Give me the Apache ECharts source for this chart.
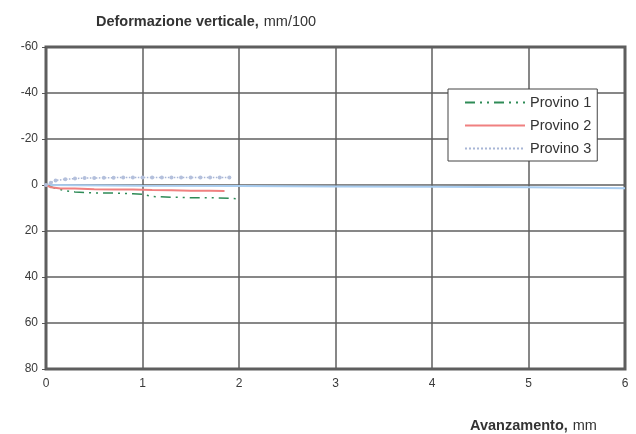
<!DOCTYPE html>
<html><head><meta charset="utf-8">
<script src="https://cdn.jsdelivr.net/npm/echarts@6/dist/echarts.min.js"></script>
<style>html,body{margin:0;padding:0;background:#fff}#c{width:636px;height:434px}</style>
</head><body><div id="c"></div>
<script>
var xTicks = [0,1,2,3,4,5,6];
var yTicks = [-60,-40,-20,0,20,40,60,80];
var p1X = [0,0.1,0.2,0.3,0.5,0.7,0.9,1.0,1.1,1.3,1.5,1.7,1.9,2.0];
var p1Y = [0,1.5,2.5,3.0,3.5,3.5,3.8,4.0,5.0,5.3,5.5,5.5,5.8,6.0];
var p2X = [0,0.05,0.15,0.3,0.5,0.7,0.9,1.1,1.3,1.5,1.7,1.85];
var p2Y = [0,1.0,1.5,1.5,1.8,2.0,2.0,2.2,2.3,2.5,2.5,2.6];
var p3X = [0,0.05,0.1,0.2,0.3,0.4,0.5,0.6,0.7,0.8,0.9,1.0,1.1,1.2,1.3,1.4,1.5,1.6,1.7,1.8,1.9];
var p3Y = [0,-1.0,-2.0,-2.5,-2.8,-3.0,-3.0,-3.2,-3.2,-3.3,-3.3,-3.3,-3.3,-3.3,-3.3,-3.3,-3.3,-3.3,-3.3,-3.3,-3.3];
var baseX = [0,1,2,3,4,5,6];
var baseY = [0,0.3,0.4,0.6,0.8,1.0,1.4];

function pairs(xs, ys){ return xs.map(function(x,i){return [x, ys[i]];}); }

var FF = 'Liberation Sans, Arial, sans-serif';
var chart = echarts.init(document.getElementById('c'), null, {renderer:'canvas'});
var lbl = {color:'#3a3a3a', fontFamily:FF, fontSize:12};
var rich = {
  b:{fontWeight:'bold', fontSize:14.5, color:'#333', fontFamily:FF},
  n:{fontWeight:'normal', fontSize:14.5, color:'#333', fontFamily:FF}
};
chart.setOption({
  animation:false,
  backgroundColor:'#fff',
  title:[{
    text:'{b|Deformazione verticale,} {n|mm/100}',
    left:91, top:8,
    textStyle:{fontWeight:'normal', rich:rich}
  },{
    text:'{b|Avanzamento,} {n|mm}',
    left:465, top:412,
    textStyle:{fontWeight:'normal', rich:rich}
  }],
  grid:{left:46, right:11, top:47, bottom:65, show:true, borderColor:'#5c5c5c', borderWidth:3, backgroundColor:'#fff'},
  legend:{
    data:[{name:'Provino 1', itemStyle:{opacity:0}},{name:'Provino 2', itemStyle:{opacity:0}},{name:'Provino 3', itemStyle:{opacity:0}}],
    orient:'vertical', left:448, top:89,
    padding:[6,6,5,16],
    itemGap:8, itemWidth:60, itemHeight:14,
    backgroundColor:'#fff', borderColor:'#444', borderWidth:1, borderRadius:0,
    textStyle:{fontSize:14.5, color:'#333', fontFamily:FF}
  },
  xAxis:{
    type:'value', min:0, max:6, interval:1,
    axisLine:{show:false},
    axisTick:{show:false},
    splitLine:{show:true, lineStyle:{color:'#5f5f5f', width:1.5}},
    axisLabel:Object.assign({margin:9}, lbl)
  },
  yAxis:{
    type:'value', min:-60, max:80, interval:20, inverse:true,
    axisLine:{show:false},
    axisTick:{show:true, length:4, lineStyle:{color:'#555'}},
    splitLine:{show:true, lineStyle:{color:'#5f5f5f', width:1.5}},
    axisLabel:Object.assign({margin:8}, lbl)
  },
  series:[
    {name:'base', type:'line', data:pairs(baseX, baseY), symbol:'none', silent:true,
     lineStyle:{color:'#a9cdf0', width:2}, itemStyle:{color:'#a9cdf0'}, z:1},
    {name:'Provino 1', type:'line', data:pairs(p1X, p1Y), symbol:'none',
     lineStyle:{color:'#2e8b57', width:1.5, type:[10,5,2,5,2,5]}, itemStyle:{color:'#2e8b57'}},
    {name:'Provino 2', type:'line', data:pairs(p2X, p2Y), symbol:'none',
     lineStyle:{color:'#f08080', width:2}, itemStyle:{color:'#f08080'}},
    {name:'Provino 3', type:'line', data:pairs(p3X, p3Y), showSymbol:true, symbol:'circle', symbolSize:4,
     lineStyle:{color:'#a8b6d6', width:1.5, type:'dotted'}, itemStyle:{color:'#b4c0dc'}}
  ]
});
</script></body></html>
